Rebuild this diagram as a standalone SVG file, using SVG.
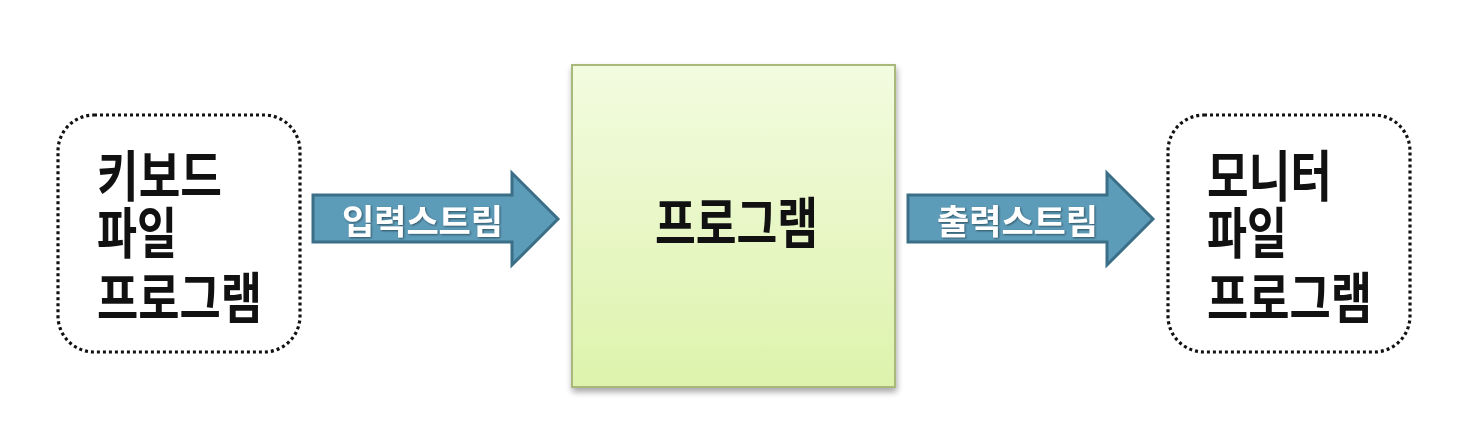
<svg xmlns="http://www.w3.org/2000/svg" width="1460" height="440" viewBox="0 0 1460 440">
<style>
.big{font-family:"Noto Sans CJK KR","Noto Sans",sans-serif;font-size:55px;font-weight:700;fill:#111}
.lbl{font-family:"Noto Sans CJK KR","Noto Sans",sans-serif;font-size:34px;font-weight:700;fill:#fff}
.dot{fill:#fff;stroke:#111;stroke-width:3.2;stroke-dasharray:3 3}
.arrow{fill:#5d9cb9;stroke:#3b6f88;stroke-width:3;stroke-linejoin:miter}
</style>
<defs>
<linearGradient id="g" x1="0" y1="0" x2="0" y2="1">
<stop offset="0" stop-color="#f3fbe0"/>
<stop offset="1" stop-color="#ddf3ac"/>
</linearGradient>
<filter id="sh" x="-10%" y="-10%" width="120%" height="120%">
<feGaussianBlur in="SourceAlpha" stdDeviation="3"/>
<feOffset dx="1" dy="4" result="b"/>
<feComponentTransfer><feFuncA type="linear" slope="0.35"/></feComponentTransfer>
<feMerge><feMergeNode/><feMergeNode in="SourceGraphic"/></feMerge>
</filter>
<filter id="ts" x="-10%" y="-20%" width="120%" height="140%">
<feGaussianBlur in="SourceAlpha" stdDeviation="1"/>
<feOffset dx="1" dy="1"/>
<feComponentTransfer><feFuncA type="linear" slope="0.5"/></feComponentTransfer>
<feMerge><feMergeNode/><feMergeNode in="SourceGraphic"/></feMerge>
</filter>
</defs>
<rect width="1460" height="440" fill="#fff"/>
<g id="connectors">
<g id="arrow-in">
<path class="arrow" d="M313,195 L512,195 L512,173 L558,219 L512,265 L512,242 L313,242 Z"/>
<text class="lbl" x="342" y="234" textLength="161" lengthAdjust="spacingAndGlyphs" filter="url(#ts)">입력스트림</text>
</g>
<g id="arrow-out">
<path class="arrow" d="M908,195 L1107,195 L1107,173 L1153,219 L1107,265 L1107,242 L908,242 Z"/>
<text class="lbl" x="937" y="234" textLength="161" lengthAdjust="spacingAndGlyphs" filter="url(#ts)">출력스트림</text>
</g>
</g>
<g id="input-node">
<rect class="dot" x="58" y="115" width="242" height="237" rx="36"/>
<text class="big"><tspan x="97" y="196" textLength="125" lengthAdjust="spacingAndGlyphs">키보드</tspan><tspan x="97" y="253" textLength="80" lengthAdjust="spacingAndGlyphs">파일</tspan><tspan x="97" y="318" textLength="165" lengthAdjust="spacingAndGlyphs">프로그램</tspan></text>
</g>
<g id="program-node">
<rect x="572" y="65" width="323" height="322" fill="url(#g)" stroke="#a9b97c" stroke-width="2" filter="url(#sh)"/>
<text class="big" x="655" y="243" textLength="163" lengthAdjust="spacingAndGlyphs">프로그램</text>
</g>
<g id="output-node">
<rect class="dot" x="1168" y="115" width="242" height="237" rx="36"/>
<text class="big"><tspan x="1207" y="196" textLength="125" lengthAdjust="spacingAndGlyphs">모니터</tspan><tspan x="1207" y="253" textLength="80" lengthAdjust="spacingAndGlyphs">파일</tspan><tspan x="1207" y="318" textLength="165" lengthAdjust="spacingAndGlyphs">프로그램</tspan></text>
</g>
</svg>
